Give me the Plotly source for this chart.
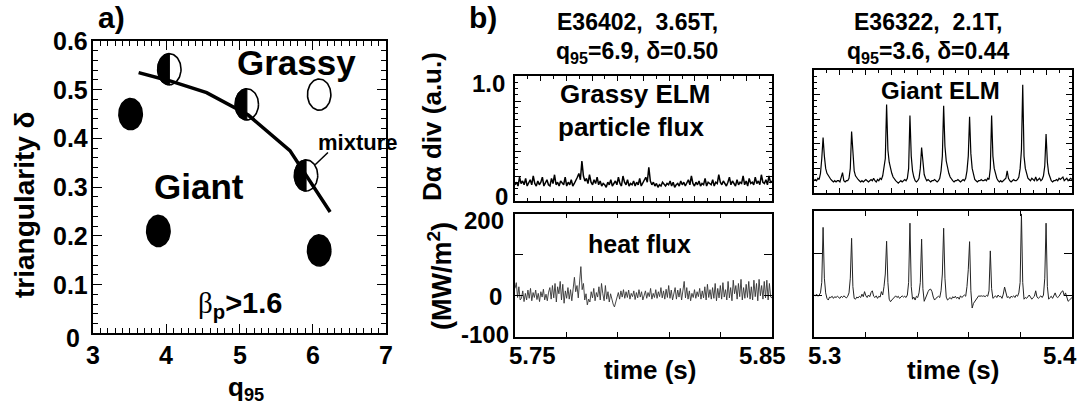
import numpy as np
import plotly.graph_objects as go

W, H = 1081, 405
FONT = "Liberation Sans"

# ---------------- panel a data ----------------
giant_q = [3.51, 3.89, 6.09]
giant_d = [0.45, 0.21, 0.17]
mixture_q = [4.04, 5.10, 5.91]
mixture_d = [0.542, 0.47, 0.324]
grassy_q = [6.09]
grassy_d = [0.49]
boundary_q = [3.62, 4.05, 4.55, 5.12, 5.69, 6.24]
boundary_d = [0.535, 0.518, 0.494, 0.448, 0.375, 0.249]
q_ticks = [3, 4, 5, 6, 7]
d_ticks = [0, 0.1, 0.2, 0.3, 0.4, 0.5, 0.6]
d_tick_text = ["0", "0.1", "0.2", "0.3", "0.4", "0.5", "0.6"]

# ---------------- panel b data ----------------
grassy_t_range = [5.75, 5.85]
giant_t_range = [5.30, 5.40]

grassy_dalpha = [
    0.13, 0.15, 0.12, 0.19, 0.14, 0.16, 0.13, 0.18, 0.12, 0.15,
    0.17, 0.13, 0.20, 0.14, 0.12, 0.16, 0.13, 0.15, 0.19, 0.12,
    0.14, 0.17, 0.13, 0.12, 0.18, 0.14, 0.21, 0.13, 0.15, 0.12,
    0.16, 0.14, 0.13, 0.19, 0.12, 0.15, 0.13, 0.17, 0.12, 0.14,
    0.16, 0.19, 0.22, 0.17, 0.32, 0.20, 0.16, 0.18, 0.14, 0.21,
    0.15, 0.13, 0.17, 0.14, 0.19, 0.13, 0.16, 0.12, 0.14, 0.13,
    0.11, 0.15, 0.13, 0.17, 0.12, 0.14, 0.16, 0.13, 0.19, 0.14,
    0.12, 0.20, 0.15, 0.13, 0.17, 0.12, 0.14, 0.13, 0.16, 0.12,
    0.15, 0.13, 0.18, 0.12, 0.14, 0.16, 0.19, 0.15, 0.27, 0.16,
    0.13, 0.15, 0.12, 0.14, 0.11, 0.13, 0.12, 0.15, 0.13, 0.12,
    0.14, 0.13, 0.16, 0.12, 0.15, 0.11, 0.13, 0.14, 0.12, 0.16,
    0.13, 0.15, 0.12, 0.14, 0.17, 0.13, 0.20, 0.14, 0.12, 0.15,
    0.13, 0.16, 0.12, 0.14, 0.13, 0.18, 0.12, 0.15, 0.14, 0.13,
    0.17, 0.12, 0.15, 0.14, 0.21, 0.15, 0.13, 0.16, 0.14, 0.12,
    0.15, 0.19, 0.13, 0.16, 0.14, 0.12, 0.17, 0.13, 0.15, 0.14,
    0.20, 0.13, 0.16, 0.12, 0.18, 0.14, 0.15, 0.13, 0.19, 0.14,
    0.16, 0.13, 0.21, 0.15, 0.14, 0.17, 0.13, 0.20, 0.15, 0.16,
]

grassy_heat = [
    18, 32, -4, 22, -10, -6, 12, -14, 6, -10,
    14, -6, 18, -12, 8, -4, 14, -9, 6, -14,
    10, -3, 16, -10, 4, -12, 9, 20, -8, 25,
    -5, 30, -15, 22, 5, 35, -10, 28, -18, 12,
    -6, 20, -8, 15, -12, 28, 45, 10, 25, -5,
    38, 71, 15, 30, -10, 5, -22, -8, -15, 10,
    -5, 18, -12, 8, -3, 22, -10, 30, 5, -12,
    25, -8, 10, -15, 5, -10, -20, -27, -15, -5,
    8, -8, 12, -3, 15, -6, 10, -4, 14, -8,
    6, -2, 12, -9, 8, -5, 15, -3, 10, -10,
    4, 12, -6, 8, -2, 18, -8, 6, -4, 15,
    -6, 10, -2, 20, -5, 12, -8, 16, -4, 25,
    -6, 14, -10, 8, 20, -8, 14, -3, 18, -10,
    8, 35, -5, 20, -8, 12, -12, 6, -4, 15,
    -6, 10, -2, 18, -8, 12, -5, 22, -10, 28,
    -4, 15, -8, 20, -6, 30, -12, 18, -5, 25,
    -8, 32, -3, 15, -10, 35, -5, 20, -12, 38,
    5, 25, -8, 30, -2, 40, -10, 20, -6, 28,
    -4, 35, -8, 22, -10, 38, -2, 30, -12, 40,
    0, 25, -8, 35, -5, 38, -10, 30, -3, -5,
]

giant_dalpha = [
    0.10, 0.11, 0.10, 0.12, 0.11, 0.16, 0.28, 0.45, 0.30, 0.20,
    0.16, 0.14, 0.12, 0.11, 0.10, 0.09, 0.10, 0.09, 0.10, 0.10,
    0.09, 0.12, 0.165, 0.10, 0.09, 0.10, 0.10, 0.12, 0.20, 0.50,
    0.30, 0.18, 0.14, 0.12, 0.11, 0.10, 0.09, 0.10, 0.09, 0.10,
    0.11, 0.10, 0.09, 0.10, 0.11, 0.10, 0.12, 0.10, 0.09, 0.11,
    0.10, 0.12, 0.11, 0.14, 0.20, 0.28, 0.72, 0.35, 0.25, 0.20,
    0.16, 0.13, 0.11, 0.10, 0.09, 0.08, 0.09, 0.10, 0.09, 0.10,
    0.11, 0.10, 0.12, 0.20, 0.63, 0.30, 0.18, 0.13, 0.10, 0.09,
    0.10, 0.12, 0.20, 0.37, 0.22, 0.15, 0.12, 0.10, 0.11, 0.10,
    0.09, 0.10, 0.10, 0.11, 0.10, 0.09, 0.10, 0.12, 0.18, 0.30,
    0.71, 0.38, 0.26, 0.20, 0.16, 0.13, 0.11, 0.10, 0.09, 0.10,
    0.10, 0.11, 0.10, 0.09, 0.10, 0.11, 0.10, 0.12, 0.18, 0.30,
    0.62, 0.32, 0.20, 0.14, 0.11, 0.10, 0.09, 0.10, 0.10, 0.11,
    0.10, 0.10, 0.11, 0.10, 0.12, 0.11, 0.20, 0.63, 0.30, 0.20,
    0.15, 0.12, 0.10, 0.09, 0.10, 0.09, 0.10, 0.11, 0.12, 0.18,
    0.12, 0.10, 0.09, 0.10, 0.11, 0.10, 0.10, 0.11, 0.13, 0.20,
    0.35, 0.88, 0.30, 0.20, 0.15, 0.12, 0.11, 0.10, 0.12, 0.11,
    0.10, 0.13, 0.10, 0.11, 0.12, 0.10, 0.11, 0.14, 0.22, 0.48,
    0.25, 0.16, 0.12, 0.10, 0.09, 0.10, 0.10, 0.11, 0.10, 0.12,
    0.11, 0.12, 0.13, 0.10, 0.11, 0.12, 0.10, 0.11, 0.12, 0.11,
]

giant_heat = [
    0, -2, 2, -3, 0, 5, 30, 161, 40, 5,
    -8, -12, -5, -6, -3, -8, -4, -6, -3, -5,
    -8, -3, -6, -2, -5, -7, -3, 5, 40, 135,
    20, -8, -10, -5, -7, -3, -6, 2, -4, 8,
    -2, -6, 0, -4, 6, 10, -3, -6, -2, -8,
    -3, -5, 8, 0, 20, 50, 128, 30, -10, -16,
    -12, -8, -5, -2, -6, -3, -8, -4, -2, -5,
    -3, -6, 0, 30, 171, 20, -10, -5, -12, -3,
    -6, 5, 30, 133, 15, -15, -5, 0, 8, 13,
    14, 8, -5, -12, -8, -5, -3, -6, 10, 50,
    159, 40, -5, -12, -8, -6, -10, -4, -7, -3,
    -8, -5, -10, -2, -6, -4, 0, -3, 20, 60,
    127, 10, -31, -20, -15, -10, -4, -2, -3, -2,
    -3, -2, -4, -1, -3, 10, 105, 15, -8, -5,
    -2, -6, 0, -4, -3, -8, 2, 19, 5, -6,
    -4, -8, -3, -5, -2, -6, 0, -3, 5, 30,
    193, 30, -10, -6, -8, -3, 0, -5, -10, -6,
    -3, 10, -5, -8, -4, -2, -6, 0, 40, 171,
    20, -10, -6, -3, -8, -2, 5, -4, -6, -3,
    4, 8, 10, -2, 5, -5, -15, -12, -8, -6,
]

# marker geometry (ellipse half-axes, data units of panel a)
RX, RY = 0.16, 0.032


def xd(p0, p1):
    return [p0 / W, p1 / W]


def yd(top, bottom):
    return [1 - bottom / H, 1 - top / H]


fig = go.Figure()

# ---------- panel a ----------
theta = np.linspace(0, 2 * np.pi, 91)
half = np.linspace(np.pi / 2, 3 * np.pi / 2, 46)


def add_ellipse(q, d, fill):
    fig.add_trace(go.Scatter(
        x=q + RX * np.cos(theta), y=d + RY * np.sin(theta),
        mode="lines", fill="toself", fillcolor=fill,
        line=dict(color="black", width=1.6),
        xaxis="x", yaxis="y", showlegend=False, hoverinfo="skip"))


for q, d in zip(giant_q, giant_d):
    add_ellipse(q, d, "black")
for q, d in zip(grassy_q, grassy_d):
    add_ellipse(q, d, "white")
for q, d in zip(mixture_q, mixture_d):
    add_ellipse(q, d, "white")
    fig.add_trace(go.Scatter(
        x=np.append(q + RX * np.cos(half), q),
        y=np.append(d + RY * np.sin(half), d + RY),
        mode="lines", fill="toself", fillcolor="black",
        line=dict(color="black", width=1.2),
        xaxis="x", yaxis="y", showlegend=False, hoverinfo="skip"))

fig.add_trace(go.Scatter(
    x=boundary_q, y=boundary_d, mode="lines",
    line=dict(color="black", width=3.5),
    xaxis="x", yaxis="y", showlegend=False))

# ---------- panel b traces ----------
t_g1 = np.linspace(grassy_t_range[0], grassy_t_range[1], len(grassy_dalpha))
t_g2 = np.linspace(grassy_t_range[0], grassy_t_range[1], len(grassy_heat))
t_G1 = np.linspace(giant_t_range[0], giant_t_range[1], len(giant_dalpha))
t_G2 = np.linspace(giant_t_range[0], giant_t_range[1], len(giant_heat))

fig.add_trace(go.Scatter(x=t_g1, y=grassy_dalpha, mode="lines",
                         line=dict(color="black", width=1.5),
                         xaxis="x2", yaxis="y2", showlegend=False))
fig.add_trace(go.Scatter(x=t_g2, y=grassy_heat, mode="lines",
                         line=dict(color="#333333", width=0.9),
                         xaxis="x3", yaxis="y3", showlegend=False))
fig.add_trace(go.Scatter(x=t_G1, y=giant_dalpha, mode="lines",
                         line=dict(color="black", width=1.2),
                         xaxis="x4", yaxis="y4", showlegend=False))
fig.add_trace(go.Scatter(x=t_G2, y=giant_heat, mode="lines",
                         line=dict(color="#222222", width=1.0),
                         xaxis="x5", yaxis="y5", showlegend=False))


def box_axis(domain, rng, dtick, ticklen, minor_dtick=None, minor_len=3,
             anchor=None, lw=1.5, **kw):
    ax = dict(domain=domain, range=rng, dtick=dtick, tick0=rng[0],
              ticks="inside", ticklen=ticklen, tickwidth=1.2, tickcolor="black",
              showline=True, linecolor="black", linewidth=lw, mirror="allticks",
              showgrid=False, zeroline=False, showticklabels=False,
              anchor=anchor, fixedrange=True, automargin=False)
    if minor_dtick:
        ax["minor"] = dict(dtick=minor_dtick, ticks="inside", ticklen=minor_len,
                           tickwidth=1, tickcolor="black", showgrid=False)
    ax.update(kw)
    return ax


layout = dict(
    template="none",
    width=W, height=H, autosize=False,
    margin=dict(l=0, r=0, t=0, b=0, pad=0, autoexpand=False),
    paper_bgcolor="white", plot_bgcolor="white",
    font=dict(family=FONT, color="black"),
    showlegend=False,
)

# panel a axes
layout["xaxis"] = box_axis(xd(93.3, 385.7), [3, 7], 1, 9, 0.1, 5, anchor="y", lw=2)
layout["yaxis"] = box_axis(yd(41, 333.3), [0, 0.6], 0.1, 9, 0.02, 5, anchor="x", lw=2)

# panel b axes
layout["xaxis2"] = box_axis(xd(515, 772), grassy_t_range, 0.01, 5, 0.005, 3, anchor="y2")
layout["yaxis2"] = box_axis(yd(76, 201), [0, 1], 0.2, 6, 0.05, 3, anchor="x2")
layout["xaxis3"] = box_axis(xd(515, 772), grassy_t_range, 0.02, 5, anchor="y3")
layout["yaxis3"] = box_axis(yd(213.5, 337), [-100, 200], 100, 8, anchor="x3")
layout["xaxis4"] = box_axis(xd(814, 1072), giant_t_range, 0.01, 5, 0.005, 3, anchor="y4")
layout["yaxis4"] = box_axis(yd(70, 193), [0, 1], 0.2, 6, 0.05, 3, anchor="x4")
layout["xaxis5"] = box_axis(xd(814, 1072), giant_t_range, 0.02, 5, anchor="y5")
layout["yaxis5"] = box_axis(yd(211, 337), [-100, 200], 100, 8, anchor="x5")

fig.update_layout(**layout)


def ann(text, x, y, size, angle=0, xanchor="center"):
    fig.add_annotation(text=f"<b>{text}</b>", x=x / W, y=1 - y / H,
                       xref="paper", yref="paper",
                       xanchor=xanchor, yanchor="middle", showarrow=False,
                       textangle=angle,
                       font=dict(family=FONT, size=size, color="black"))


# bold tick labels for panel a, placed at the axis values
for v in q_ticks:
    fig.add_annotation(text=f"<b>{v}</b>", x=v, y=0, xref="x", yref="y domain",
                       xanchor="center", yanchor="top", showarrow=False, yshift=-6,
                       font=dict(family=FONT, size=25, color="black"))
for v, lab in zip(d_ticks, d_tick_text):
    fig.add_annotation(text=f"<b>{lab}</b>", x=0, y=v, xref="x domain", yref="y",
                       xanchor="right", yanchor="middle", showarrow=False,
                       xshift=-3 if v > 0 else -11, yshift=0 if v > 0 else -5,
                       font=dict(family=FONT, size=25, color="black"))

# panel a texts
ann("a)", 111, 18, 30)
ann("Grassy", 296, 62, 35)
ann("Giant", 199, 186, 35)
ann("mixture", 357, 142, 22)
fig.add_annotation(
    text="<span style='font-family:Liberation Serif'>β</span>"
         "<b><sub>p</sub>&gt;1.6</b>",
    x=240 / W, y=1 - 305 / H, xref="paper", yref="paper",
    xanchor="center", yanchor="middle", showarrow=False,
    font=dict(family=FONT, size=29, color="black"))
ann("triangularity δ", 24, 205, 28, angle=-90)
ann("q<sub>95</sub>", 246, 388, 26)
fig.add_shape(type="line", xref="x", yref="y",
              x0=6.21, y0=0.371, x1=6.035, y1=0.346,
              line=dict(color="black", width=1.5))

# panel b texts
ann("b)", 483, 18, 30)
ann("E36402,  3.65T,", 637, 22, 23)
ann("q<sub>95</sub>=6.9, δ=0.50", 637, 52, 23)
ann("E36322,  2.1T,", 928, 22, 23)
ann("q<sub>95</sub>=3.6, δ=0.44", 928, 52, 23)
ann("Grassy ELM", 635, 94, 26)
ann("particle flux", 631, 127, 26)
ann("heat flux", 639, 244, 25)
ann("Giant ELM", 940, 90, 24)
ann("Dα div (a.u.)", 432, 127, 26, angle=-90)
ann("(MW/m<sup>2</sup>)", 440, 276, 27, angle=-90)
ann("time (s)", 650, 370, 26)
ann("time (s)", 953, 370, 26)


# tick labels of panel b (placed at the axis values, nudged inward as in the original)
def tick_lbl(text, xref, yref, xv, yv, xanchor, xshift=0, yshift=0, size=24):
    fig.add_annotation(text=f"<b>{text}</b>", x=xv, y=yv, xref=xref, yref=yref,
                       xanchor=xanchor, yanchor="middle", showarrow=False,
                       xshift=xshift, yshift=yshift,
                       font=dict(family=FONT, size=size, color="black"))


tick_lbl("1.0", "x2 domain", "y2", 0, 1.0, "right", xshift=-8, yshift=-7)
tick_lbl("0", "x2 domain", "y2", 0, 0.0, "right", xshift=-5, yshift=5)
tick_lbl("200", "x3 domain", "y3", 0, 200, "right", xshift=-9, yshift=-7)
tick_lbl("0", "x3 domain", "y3", 0, 0, "right", xshift=-11, yshift=-1)
tick_lbl("-100", "x3 domain", "y3", 0, -100, "right", xshift=-4, yshift=3)

for xr, yr, tv, lab, sh in [("x3", "y3 domain", 5.75, "5.75", 17),
                            ("x3", "y3 domain", 5.85, "5.85", -10),
                            ("x5", "y5 domain", 5.30, "5.3", 10),
                            ("x5", "y5 domain", 5.40, "5.4", -12)]:
    fig.add_annotation(text=f"<b>{lab}</b>", x=tv, y=0, xref=xr, yref=yr,
                       xanchor="center", yanchor="top", showarrow=False,
                       xshift=sh, yshift=-3,
                       font=dict(family=FONT, size=24, color="black"))

fig.write_html("out.html")
